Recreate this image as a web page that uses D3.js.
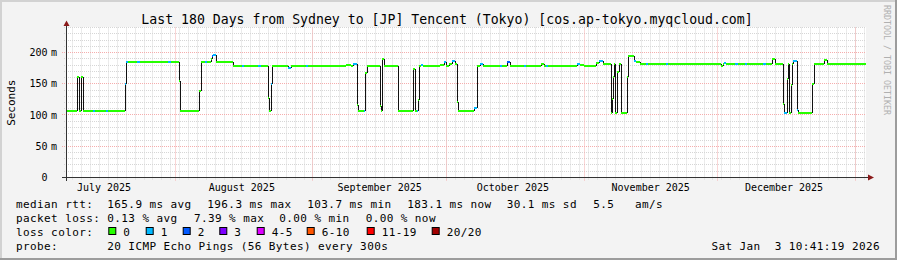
<!DOCTYPE html>
<html>
<head>
<meta charset="utf-8">
<script src="https://cdn.jsdelivr.net/npm/d3@7"></script>
<style>
body { margin: 0; background: #f3f3f3; }
svg { display: block; }
text { font-family: "DejaVu Sans Mono", monospace; fill: #000; white-space: pre; }
</style>
</head>
<body>
<svg id="chart"></svg>
<script>
var width = 897, height = 260;

var startTime = "2025-07-07T10:41";
var endTime = "2026-01-03T10:41";

// median rtt, one entry per level change: [from, ms, lost pings of 20]
var medianSteps = [
    ["2025-07-07T10:41", 107, 0],
    ["2025-07-10T00:00", 161, 0],
    ["2025-07-10T08:00", 107, 0],
    ["2025-07-10T22:00", 161, 0],
    ["2025-07-11T05:00", 107, 0],
    ["2025-07-13T12:00", 107, 1],
    ["2025-07-14T00:00", 107, 0],
    ["2025-07-16T12:00", 107, 1],
    ["2025-07-17T00:00", 107, 0],
    ["2025-07-20T16:00", 149, 1],
    ["2025-07-21T01:00", 185, 1],
    ["2025-07-21T12:00", 185, 0],
    ["2025-07-23T12:00", 185, 1],
    ["2025-07-24T00:00", 185, 0],
    ["2025-07-30T12:00", 185, 1],
    ["2025-07-31T00:00", 185, 0],
    ["2025-08-01T21:00", 155, 0],
    ["2025-08-02T01:00", 107, 0],
    ["2025-08-06T09:00", 139, 0],
    ["2025-08-06T18:00", 185, 0],
    ["2025-08-07T18:00", 185, 1],
    ["2025-08-08T06:00", 185, 0],
    ["2025-08-09T00:00", 190, 0],
    ["2025-08-09T06:00", 194, 2],
    ["2025-08-09T13:00", 196, 1],
    ["2025-08-10T03:00", 185, 0],
    ["2025-08-14T02:00", 178, 0],
    ["2025-08-16T00:00", 178, 1],
    ["2025-08-16T12:00", 178, 0],
    ["2025-08-19T18:00", 178, 1],
    ["2025-08-20T06:00", 178, 0],
    ["2025-08-21T23:00", 127, 0],
    ["2025-08-22T05:00", 107, 0],
    ["2025-08-22T12:00", 149, 1],
    ["2025-08-22T18:00", 178, 0],
    ["2025-08-26T12:00", 175, 1],
    ["2025-08-27T00:00", 178, 0],
    ["2025-08-30T12:00", 178, 1],
    ["2025-08-31T00:00", 178, 0],
    ["2025-09-08T12:00", 180, 0],
    ["2025-09-09T12:00", 178, 0],
    ["2025-09-10T00:00", 182, 1],
    ["2025-09-10T20:00", 178, 0],
    ["2025-09-11T00:00", 116, 0],
    ["2025-09-11T04:00", 107, 0],
    ["2025-09-12T10:00", 107, 1],
    ["2025-09-12T16:00", 167, 0],
    ["2025-09-13T03:00", 178, 0],
    ["2025-09-16T00:00", 114, 0],
    ["2025-09-16T07:00", 107, 0],
    ["2025-09-16T14:00", 190, 0],
    ["2025-09-17T02:00", 178, 0],
    ["2025-09-20T05:00", 107, 0],
    ["2025-09-23T11:00", 157, 0],
    ["2025-09-23T14:00", 174, 0],
    ["2025-09-23T22:00", 107, 0],
    ["2025-09-24T08:00", 107, 1],
    ["2025-09-24T14:00", 124, 0],
    ["2025-09-24T19:00", 178, 0],
    ["2025-09-25T06:00", 180, 1],
    ["2025-09-25T18:00", 178, 0],
    ["2025-09-29T12:00", 180, 0],
    ["2025-09-30T12:00", 184, 1],
    ["2025-10-01T00:00", 179, 0],
    ["2025-10-01T15:00", 182, 0],
    ["2025-10-02T07:00", 186, 1],
    ["2025-10-02T23:00", 181, 0],
    ["2025-10-03T12:00", 121, 0],
    ["2025-10-03T17:00", 107, 0],
    ["2025-10-07T08:00", 112, 1],
    ["2025-10-08T00:00", 178, 0],
    ["2025-10-08T12:00", 182, 1],
    ["2025-10-09T06:00", 178, 0],
    ["2025-10-13T00:00", 178, 1],
    ["2025-10-13T12:00", 178, 0],
    ["2025-10-14T16:00", 184, 2],
    ["2025-10-15T06:00", 178, 0],
    ["2025-10-18T12:00", 178, 1],
    ["2025-10-19T00:00", 178, 0],
    ["2025-10-22T06:00", 181, 0],
    ["2025-10-23T00:00", 178, 0],
    ["2025-10-23T12:00", 178, 1],
    ["2025-10-24T00:00", 178, 0],
    ["2025-10-30T10:00", 181, 1],
    ["2025-10-31T00:00", 180, 0],
    ["2025-11-01T00:00", 178, 0],
    ["2025-11-03T15:00", 183, 0],
    ["2025-11-04T10:00", 186, 1],
    ["2025-11-05T08:00", 181, 0],
    ["2025-11-07T00:00", 104, 0],
    ["2025-11-07T07:00", 125, 0],
    ["2025-11-07T14:00", 161, 0],
    ["2025-11-07T20:00", 182, 0],
    ["2025-11-08T01:00", 104, 0],
    ["2025-11-08T12:00", 169, 0],
    ["2025-11-08T19:00", 182, 0],
    ["2025-11-09T06:00", 104, 0],
    ["2025-11-10T15:00", 161, 0],
    ["2025-11-10T20:00", 195, 0],
    ["2025-11-12T06:00", 187, 1],
    ["2025-11-12T17:00", 184, 0],
    ["2025-11-13T14:00", 182, 0],
    ["2025-11-15T00:00", 182, 1],
    ["2025-11-15T12:00", 182, 0],
    ["2025-11-19T12:00", 182, 1],
    ["2025-11-20T00:00", 182, 0],
    ["2025-11-25T00:00", 181, 0],
    ["2025-11-28T00:00", 182, 0],
    ["2025-12-01T18:00", 179, 0],
    ["2025-12-02T06:00", 182, 0],
    ["2025-12-02T12:00", 183, 1],
    ["2025-12-03T00:00", 182, 0],
    ["2025-12-05T00:00", 182, 1],
    ["2025-12-05T18:00", 182, 0],
    ["2025-12-07T06:00", 182, 1],
    ["2025-12-07T18:00", 182, 0],
    ["2025-12-11T06:00", 182, 1],
    ["2025-12-11T20:00", 182, 0],
    ["2025-12-13T08:00", 190, 0],
    ["2025-12-13T21:00", 182, 0],
    ["2025-12-15T18:00", 117, 0],
    ["2025-12-16T00:00", 104, 1],
    ["2025-12-16T14:00", 157, 0],
    ["2025-12-16T20:00", 182, 0],
    ["2025-12-17T04:00", 104, 0],
    ["2025-12-17T12:00", 148, 0],
    ["2025-12-17T17:00", 182, 0],
    ["2025-12-18T02:00", 186, 1],
    ["2025-12-18T23:00", 108, 1],
    ["2025-12-19T05:00", 104, 0],
    ["2025-12-22T08:00", 149, 0],
    ["2025-12-22T16:00", 182, 0],
    ["2025-12-25T00:00", 188, 0],
    ["2025-12-25T14:00", 182, 0]
];

var yTicks = [0, 50, 100, 150, 200];
var months = ["2025-07-01", "2025-08-01", "2025-09-01", "2025-10-01", "2025-11-01", "2025-12-01", "2026-01-01"];

var lossNames = ["0", "1", "2", "3", "4-5", "6-10", "11-19", "20/20"];
var lossColors = ["#26ff00", "#00b8ff", "#0059ff", "#7e00ff", "#dd00ff", "#ff5500", "#ff0000", "#a10000"];

var rttStats = ["165.9 ms avg", "196.3 ms max", "103.7 ms min", "183.1 ms now", "30.1 ms sd", "5.5", "am/s"];
var lossStats = ["0.13 % avg", "7.39 % max", "0.00 % min", "0.00 % now"];
var titleText = "Last 180 Days from Sydney to [JP] Tencent (Tokyo) [cos.ap-tokyo.myqcloud.com]";
var probeText = "20 ICMP Echo Pings (56 Bytes) every 300s";
var stampText = "Sat Jan  3 10:41:19 2026";

var parseT = d3.utcParse("%Y-%m-%dT%H:%M");
var parseD = d3.utcParse("%Y-%m-%d");

var svg = d3.select("#chart")
    .attr("width", width)
    .attr("height", height);

// background + 3d frame
svg.append("rect").attr("width", width).attr("height", height).attr("fill", "#f3f3f3");
svg.append("rect").attr("x", 0).attr("y", 0).attr("width", width).attr("height", 2).attr("fill", "#d2d2d2");
svg.append("rect").attr("x", 0).attr("y", 0).attr("width", 2).attr("height", height).attr("fill", "#d2d2d2");
svg.append("rect").attr("x", 0).attr("y", height - 2).attr("width", width).attr("height", 2).attr("fill", "#9c9c9c");
svg.append("rect").attr("x", width - 2).attr("y", 0).attr("width", 2).attr("height", height).attr("fill", "#9c9c9c");

var x = d3.scaleUtc()
    .domain([parseT(startTime), parseT(endTime)])
    .range([66, 866]);

var y = d3.scaleLinear()
    .domain([0, 240])
    .range([177.5, 27.5]);

// canvas
svg.append("rect")
    .attr("x", 66).attr("y", 27)
    .attr("width", 800).attr("height", 151)
    .attr("fill", "#fff");

var px = function(v) { return Math.floor(v) + 0.5; };

// minor grid: every 2 days, every 10 ms
var minorDays = d3.utcDay.range(x.domain()[0], x.domain()[1])
    .filter(function(d) { return Math.round(d / 864e5) % 2 === 0; });

var grid = svg.append("g");
grid.selectAll(".vmin")
    .data(minorDays)
    .enter().append("line")
    .attr("x1", function(d) { return px(x(d)); })
    .attr("x2", function(d) { return px(x(d)); })
    .attr("y1", 27.5).attr("y2", 180)
    .attr("stroke", "#d6d6d6")
    .attr("stroke-dasharray", "1,1");

grid.selectAll(".hmin")
    .data(d3.range(10, 241, 10).filter(function(v) { return v % 50 !== 0; }))
    .enter().append("line")
    .attr("x1", 64).attr("x2", 866)
    .attr("y1", function(d) { return px(y(d)); })
    .attr("y2", function(d) { return px(y(d)); })
    .attr("stroke", "#d6d6d6")
    .attr("stroke-dasharray", "1,1");

// major grid
var monthDates = months.map(parseD).filter(function(d) { return d > x.domain()[0] && d < x.domain()[1]; });
grid.selectAll(".vmaj")
    .data(monthDates)
    .enter().append("line")
    .attr("x1", function(d) { return px(x(d)); })
    .attr("x2", function(d) { return px(x(d)); })
    .attr("y1", 27.5).attr("y2", 181)
    .attr("stroke", "#f5adad")
    .attr("stroke-dasharray", "1,1");

grid.selectAll(".hmaj")
    .data(yTicks.filter(function(v) { return v > 0; }))
    .enter().append("line")
    .attr("x1", 62).attr("x2", 866)
    .attr("y1", function(d) { return px(y(d)); })
    .attr("y2", function(d) { return px(y(d)); })
    .attr("stroke", "#f5adad")
    .attr("stroke-dasharray", "1,1");

// y labels
var yl = svg.append("g").style("font-size", "10px");
yl.selectAll(".num")
    .data(yTicks)
    .enter().append("text")
    .attr("x", 47.5)
    .attr("y", function(d) { return y(d) + 3.6; })
    .attr("text-anchor", "end")
    .text(function(d) { return d; });
yl.selectAll(".unit")
    .data(yTicks.filter(function(v) { return v > 0; }))
    .enter().append("text")
    .attr("x", 51)
    .attr("y", function(d) { return y(d) + 3.6; })
    .text("m");

// x labels, centered mid month
svg.append("g").style("font-size", "10px")
    .selectAll("text")
    .data(months.slice(0, 6).map(parseD))
    .enter().append("text")
    .attr("x", function(d) { return x(d3.utcDay.offset(d, 15)); })
    .attr("y", 191)
    .attr("text-anchor", "middle")
    .text(d3.utcFormat("%B %Y"));

// median rtt: dark risers, loss coloured levels
var steps = medianSteps.map(function(s) { return { t: parseT(s[0]), v: s[1], loss: s[2] }; });
steps.forEach(function(s, i) { s.t2 = i < steps.length - 1 ? steps[i + 1].t : parseT(endTime); });
var yy = function(v) { return Math.round(y(v)); };

svg.append("g").selectAll("line")
    .data(steps.slice(1).map(function(s, i) { return { t: s.t, a: steps[i].v, b: s.v }; }))
    .enter().append("line")
    .attr("x1", function(d) { return Math.round(x(d.t)) + 0.5; })
    .attr("x2", function(d) { return Math.round(x(d.t)) + 0.5; })
    .attr("y1", function(d) { return yy(d.a); })
    .attr("y2", function(d) { return yy(d.b); })
    .attr("stroke", "#111")
    .attr("stroke-width", 1);

svg.append("g").selectAll("line")
    .data(steps)
    .enter().append("line")
    .attr("x1", function(d) { return Math.round(x(d.t)); })
    .attr("x2", function(d) { return Math.round(x(d.t2)); })
    .attr("y1", function(d) { return yy(d.v); })
    .attr("y2", function(d) { return yy(d.v); })
    .attr("stroke", function(d) { return lossColors[d.loss]; })
    .attr("stroke-width", 2);

// axes
var axis = svg.append("g");
axis.append("line").attr("x1", 62).attr("x2", 869).attr("y1", 177.5).attr("y2", 177.5).attr("stroke", "#333");
axis.append("line").attr("x1", 66.5).attr("x2", 66.5).attr("y1", 181).attr("y2", 25).attr("stroke", "#333");
axis.append("path").attr("d", "M868,174.5L874,177.5L868,180.5Z").attr("fill", "#8b1a1a");
axis.append("path").attr("d", "M63.5,26L66.5,20.5L69.5,26Z").attr("fill", "#8b1a1a");

// title
svg.append("text")
    .attr("x", 447).attr("y", 24)
    .attr("text-anchor", "middle")
    .style("font-size", "13.2px")
    .text(titleText);

svg.append("text")
    .attr("transform", "translate(14.5,102.7) rotate(-90)")
    .attr("text-anchor", "middle")
    .style("font-size", "11px")
    .text("Seconds");

svg.append("text")
    .attr("transform", "translate(883.5,60) rotate(90)")
    .attr("text-anchor", "middle")
    .style("font-size", "8.3px")
    .style("fill", "#b0b0b0")
    .text("RRDTOOL / TOBI OETIKER");

// legend
var legend = svg.append("g").style("font-size", "11px").style("letter-spacing", "0.4px");
var rttX = [107.3, 207.3, 307.3, 407.3, 506.7, 593.3, 635];
var lossX = [107.3, 194, 279.3, 365.7];
var boxX = [108.3, 145.7, 182.7, 219.3, 256.7, 306.7, 366.7, 431.7];

legend.append("text").attr("x", 16).attr("y", 208.3).text("median rtt:");
legend.selectAll(".rtt").data(rttStats).enter().append("text")
    .attr("x", function(d, i) { return rttX[i]; }).attr("y", 208.3).text(function(d) { return d; });

legend.append("text").attr("x", 16).attr("y", 222.3).text("packet loss:");
legend.selectAll(".pl").data(lossStats).enter().append("text")
    .attr("x", function(d, i) { return lossX[i]; }).attr("y", 222.3).text(function(d) { return d; });

legend.append("text").attr("x", 16).attr("y", 235.7).text("loss color:");
legend.selectAll(".box").data(lossColors).enter().append("rect")
    .attr("x", function(d, i) { return boxX[i] + 0.5; })
    .attr("y", 227.5)
    .attr("width", 7).attr("height", 7)
    .attr("fill", function(d) { return d; })
    .attr("stroke", "#000");
legend.selectAll(".ln").data(lossNames).enter().append("text")
    .attr("x", function(d, i) { return boxX[i] + 15; }).attr("y", 235.7).text(function(d) { return d; });

legend.append("text").attr("x", 16).attr("y", 250).text("probe:");
legend.append("text").attr("x", 107.3).attr("y", 250).text(probeText);
legend.append("text").attr("x", 880).attr("y", 250).attr("text-anchor", "end").text(stampText);
</script>
</body>
</html>
